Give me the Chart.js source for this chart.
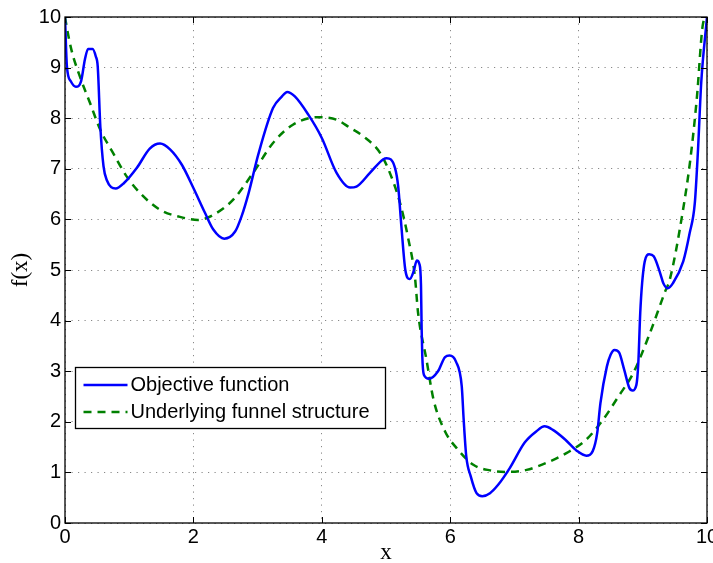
<!DOCTYPE html>
<html>
<head>
<meta charset="utf-8">
<script src="https://cdn.jsdelivr.net/npm/chart.js@4/dist/chart.umd.min.js"></script>
<style>
  html, body { margin: 0; padding: 0; background: #fff; }
  #wrap { width: 713px; height: 563px; }
</style>
</head>
<body>
<div id="wrap"><canvas id="funnel"></canvas></div>
<script>
// objective function (solid blue)
const xObjective = [0, 0.03, 0.09, 0.17, 0.25, 0.31, 0.36, 0.43, 0.48, 0.51, 0.55, 0.60, 0.65, 0.79, 0.92,
  1.12, 1.32, 1.48, 1.64, 1.82, 2.00, 2.18, 2.31, 2.48, 2.65, 2.75, 2.86, 3.01, 3.24, 3.38, 3.46, 3.58,
  3.79, 4.00, 4.23, 4.44, 4.54, 4.75, 4.96, 5.01, 5.14, 5.19, 5.24, 5.30, 5.37, 5.43, 5.48, 5.52, 5.545,
  5.555, 5.565, 5.59, 5.67, 5.81, 5.92, 5.99, 6.09, 6.18, 6.21, 6.25, 6.32, 6.41, 6.50, 6.62, 6.75, 6.93,
  7.16, 7.34, 7.47, 7.60, 7.79, 7.97, 8.12, 8.22, 8.29, 8.34, 8.44, 8.50, 8.56, 8.63, 8.71, 8.79, 8.84,
  8.90, 8.93, 8.96, 8.99, 9.03, 9.10, 9.17, 9.27, 9.32, 9.39, 9.47, 9.63, 9.73, 9.81, 9.86, 9.91, 10];
const yObjective = [10, 9.02, 8.73, 8.62, 8.73, 9.16, 9.37, 9.37, 9.22, 9.02, 7.84, 7.05, 6.78, 6.61, 6.72,
  7.02, 7.40, 7.50, 7.38, 7.08, 6.62, 6.13, 5.80, 5.62, 5.76, 6.06, 6.52, 7.28, 8.20, 8.43, 8.52, 8.43,
  8.07, 7.61, 6.92, 6.63, 6.65, 6.92, 7.19, 7.21, 7.02, 6.65, 5.86, 5.01, 4.82, 4.97, 5.19, 5.12, 4.70,
  3.85, 3.30, 2.93, 2.85, 3.00, 3.28, 3.31, 3.19, 2.70, 2.04, 1.32, 0.92, 0.59, 0.53, 0.59, 0.76, 1.09,
  1.59, 1.81, 1.91, 1.84, 1.65, 1.43, 1.33, 1.42, 1.78, 2.37, 3.09, 3.33, 3.42, 3.37, 3.03, 2.67, 2.62,
  2.73, 3.16, 4.15, 4.75, 5.17, 5.31, 5.27, 4.94, 4.74, 4.64, 4.74, 5.17, 5.73, 6.32, 7.38, 8.70, 10];

// underlying funnel (dashed green)
const xFunnel = [0, 0.02, 0.10, 0.23, 0.39, 0.55, 0.75, 0.96, 1.17, 1.48, 1.79, 2.07, 2.31, 2.62, 2.93,
  3.24, 3.55, 3.95, 4.23, 4.44, 4.65, 4.91, 5.06, 5.22, 5.35, 5.45, 5.50, 5.63, 5.74, 5.92, 6.10, 6.36,
  6.62, 6.88, 7.19, 7.50, 7.81, 8.12, 8.38, 8.62, 8.85, 9.11, 9.34, 9.42, 9.61, 9.74, 9.84, 9.94, 10];
const yFunnel = [10, 9.85, 9.35, 8.83, 8.30, 7.77, 7.31, 6.85, 6.52, 6.19, 6.05, 5.99, 6.09, 6.39, 6.92,
  7.51, 7.87, 8.02, 7.97, 7.81, 7.64, 7.31, 6.92, 6.32, 5.60, 4.87, 4.15, 3.23, 2.44, 1.81, 1.48, 1.15,
  1.04, 1.01, 1.05, 1.19, 1.38, 1.65, 2.04, 2.50, 2.96, 3.75, 4.55, 4.81, 6.06, 7.18, 8.37, 9.88, 10];

const seriesNames = ['Objective function', 'Underlying funnel structure'];
const xTicks = [0, 2, 4, 6, 8, 10];
const yTicks = [0, 1, 2, 3, 4, 5, 6, 7, 8, 9, 10];

const toPoints = (xs, ys) => xs.map((x, i) => ({ x, y: ys[i] }));

const SANS = "'Liberation Sans', Arial, sans-serif";
const SERIF = "'Liberation Serif', 'Times New Roman', serif";

// inward ticks on all four sides + the box
const matlabFrame = {
  id: 'matlabFrame',
  afterDatasetsDraw(chart) {
    const { ctx, chartArea: a, scales: { x, y } } = chart;
    ctx.save();
    ctx.strokeStyle = '#000';
    ctx.lineWidth = 1;
    ctx.beginPath();
    xTicks.forEach((v) => {
      const px = Math.round(x.getPixelForValue(v)) + 0.5;
      ctx.moveTo(px, a.bottom); ctx.lineTo(px, a.bottom - 6);
      ctx.moveTo(px, a.top); ctx.lineTo(px, a.top + 6);
    });
    yTicks.forEach((v) => {
      const py = Math.round(y.getPixelForValue(v)) + 0.5;
      ctx.moveTo(a.left, py); ctx.lineTo(a.left + 6, py);
      ctx.moveTo(a.right, py); ctx.lineTo(a.right - 6, py);
    });
    ctx.stroke();
    ctx.lineWidth = 1.3;
    ctx.strokeRect(a.left, a.top, a.right - a.left, a.bottom - a.top);
    ctx.restore();
  },
};

// axis names in serif
const axisNames = {
  id: 'axisNames',
  afterDraw(chart) {
    const { ctx, chartArea: a } = chart;
    ctx.save();
    ctx.fillStyle = '#000';
    ctx.font = '23px ' + SERIF;
    ctx.textAlign = 'center';
    ctx.textBaseline = 'middle';
    ctx.fillText('x', (a.left + a.right) / 2, 553);
    ctx.translate(21, (a.top + a.bottom) / 2);
    ctx.rotate(-Math.PI / 2);
    ctx.fillText('f(x)', 0, 0);
    ctx.restore();
  },
};

// boxed legend inside the axes
const boxLegend = {
  id: 'boxLegend',
  afterDraw(chart) {
    const { ctx, chartArea: a } = chart;
    const left = a.left + 10.5, top = 367.5, w = 310, h = 61;
    ctx.save();
    ctx.fillStyle = '#fff';
    ctx.fillRect(left, top, w, h);
    ctx.strokeStyle = '#000';
    ctx.lineWidth = 1.3;
    ctx.strokeRect(left, top, w, h);
    ctx.font = '20px ' + SANS;
    ctx.textBaseline = 'middle';
    chart.data.datasets.forEach((ds, i) => {
      const yy = top + 17.5 + i * 27;
      ctx.strokeStyle = ds.borderColor;
      ctx.lineWidth = 2.5;
      ctx.setLineDash(ds.borderDash || []);
      ctx.beginPath();
      ctx.moveTo(left + 8, yy);
      ctx.lineTo(left + 52, yy);
      ctx.stroke();
      ctx.setLineDash([]);
      ctx.fillStyle = '#000';
      ctx.fillText(ds.label, left + 55, yy);
    });
    ctx.restore();
  },
};

new Chart(document.getElementById('funnel'), {
  type: 'scatter',
  data: {
    datasets: [
      {
        label: seriesNames[0],
        data: toPoints(xObjective, yObjective),
        showLine: true,
        borderColor: '#0000ff',
        borderWidth: 2.5,
        pointRadius: 0,
        cubicInterpolationMode: 'monotone',
      },
      {
        label: seriesNames[1],
        data: toPoints(xFunnel, yFunnel),
        showLine: true,
        borderColor: '#008000',
        borderWidth: 2.5,
        borderDash: [8, 6],
        pointRadius: 0,
        cubicInterpolationMode: 'monotone',
      },
    ],
  },
  options: {
    responsive: true,
    maintainAspectRatio: false,
    animation: false,
    layout: { padding: { top: 17, right: 6, left: 0, bottom: 0 } },
    plugins: { legend: { display: false }, tooltip: { enabled: false } },
    scales: {
      x: {
        type: 'linear',
        min: 0,
        max: 10,
        afterBuildTicks: (s) => { s.ticks = xTicks.map((v) => ({ value: v })); },
        afterFit: (s) => { s.height = 40; s.paddingLeft = 0; s.paddingRight = 0; },
        ticks: { color: '#000', font: { family: SANS, size: 20 }, padding: 2, maxRotation: 0 },
        grid: { color: '#888', lineWidth: 1, drawTicks: false },
        border: { display: false, dash: [1.2, 5.3] },
      },
      y: {
        type: 'linear',
        min: 0,
        max: 10,
        afterBuildTicks: (s) => { s.ticks = yTicks.map((v) => ({ value: v })); },
        afterFit: (s) => { s.width = 65; s.paddingTop = 0; s.paddingBottom = 0; },
        ticks: { color: '#000', font: { family: SANS, size: 20 }, padding: 4 },
        grid: { color: '#888', lineWidth: 1, drawTicks: false },
        border: { display: false, dash: [1.2, 5.3] },
      },
    },
  },
  plugins: [matlabFrame, axisNames, boxLegend],
});
</script>
</body>
</html>
